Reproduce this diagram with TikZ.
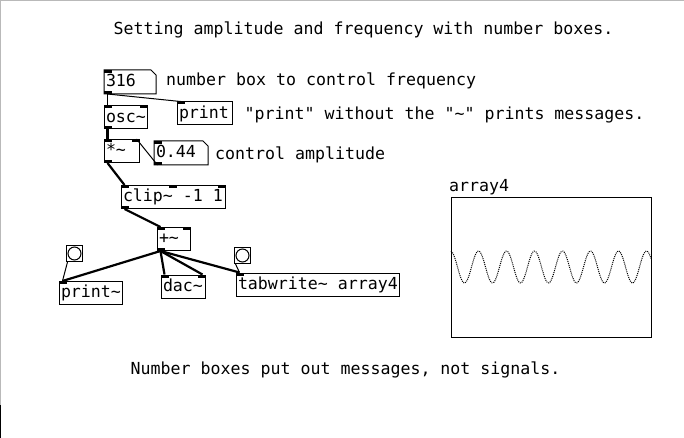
\documentclass[tikz,border=0pt]{standalone}
\usepackage{fontspec}
\setmonofont{DejaVu Sans Mono}
\newcommand\pdin[2]{\fill ([xshift=#2]#1.north west) rectangle ++(8,3);}
\newcommand\pdinr[1]{\fill (#1.north east) rectangle ++(-8,3);}
\newcommand\pdout[1]{\fill (#1.south west) rectangle ++(8,-3);}
\newcommand\bx[2]{\makebox[#1][l]{#2}}
\tikzset{
  pdobj/.style={draw, line width=1pt, anchor=north west, minimum height=23pt,
    inner xsep=1.5pt, inner ysep=3.75pt, text height=12.5pt, text depth=3pt},
  numbox/.style={pdobj, draw=none},
  bng/.style={draw, line width=1pt, anchor=north west, minimum size=16pt, inner sep=0pt},
  cmt/.style={anchor=base west, inner sep=0pt},
  msg/.style={line width=1pt},
  sig/.style={line width=2.2pt},
  wave/.style={line width=1pt, dash pattern=on 1pt off 1pt},
}
\begin{document}
\begin{tikzpicture}[x=1pt,y=-1pt,font=\ttfamily\fontsize{16.6}{19}\selectfont\frenchspacing]
\useasboundingbox (0,0) rectangle (684,438);
\fill[white] (0,0) rectangle (684,438);
\draw[gray!55, line width=1pt] (0,0.5) -- (684,0.5);
\draw[gray!55, line width=1pt] (0.5,0) -- (0.5,405);
\draw[black, line width=1pt] (0.5,405) -- (0.5,438);

% comments
\node[cmt] (title) at (113.5,35) {Setting amplitude and frequency with number boxes.};
\node[cmt] (cfreq) at (166,86) {number box to control frequency};
\node[cmt] (cprint) at (244.5,120) {"print" without the "\textasciitilde" prints messages.};
\node[cmt] (camp) at (215,160) {control amplitude};
\node[cmt] (cbottom) at (130.5,374) {Number boxes put out messages, not signals.};
\node[cmt] (arrlbl) at (449,191.5) {array4};

% objects
\node[numbox] (n316) at (104,70) {\bx{48pt}{316}};
\node[pdobj] (osc) at (104,105.5) {\bx{40pt}{osc\textasciitilde}};
\node[pdobj] (print) at (177,101.5) {\bx{52pt}{print}};
\node[pdobj] (mul) at (104,139) {\bx{32pt}{*\textasciitilde}};
\node[numbox] (n044) at (154,141) {\bx{50pt}{0.44}};
\node[pdobj] (clip) at (121,185) {\bx{101pt}{clip\textasciitilde\ -1 1}};
\node[pdobj] (plus) at (157,227) {\bx{30pt}{+\textasciitilde}};
\node[pdobj] (printsig) at (59,281) {\bx{60pt}{print\textasciitilde}};
\node[pdobj] (dac) at (161,274.5) {\bx{41pt}{dac\textasciitilde}};
\node[pdobj] (tabw) at (236,272.5) {\bx{160pt}{tabwrite\textasciitilde\ array4}};
\node[bng] (bL) at (66,245) {};
\node[bng] (bR) at (234,247) {};
\draw[line width=1pt] (bL.center) circle (6.5pt);
\draw[line width=1pt] (bR.center) circle (6.5pt);

% number box outlines
\foreach \n in {n316,n044}{
  \draw[line width=1pt] (\n.north west) -- ([xshift=-5pt]\n.north east)
    -- ([yshift=-5pt]\n.north east) -- (\n.south east) -- (\n.south west) -- cycle;
}

% iolets
\pdin{n316}{0pt} \pdout{n316}
\pdin{osc}{0pt} \pdinr{osc} \pdout{osc}
\pdin{print}{0pt}
\pdin{mul}{0pt} \pdinr{mul} \pdout{mul}
\pdin{n044}{0pt} \pdout{n044}
\pdin{clip}{0pt} \pdin{clip}{48pt} \pdinr{clip} \pdout{clip}
\pdin{plus}{0pt} \pdinr{plus} \pdout{plus}
\pdin{printsig}{0pt}
\pdin{dac}{0pt} \pdinr{dac}
\pdin{tabw}{0pt}

% connections
\draw[msg] ([xshift=3.5pt]n316.south west) -- ([xshift=3.5pt]osc.north west);
\draw[msg] ([xshift=3.5pt]n316.south west) -- ([xshift=3.5pt]print.north west);
\draw[sig] ([xshift=3.5pt]osc.south west) -- ([xshift=3.5pt]mul.north west);
\draw[msg] ([xshift=3.5pt]n044.south west) -- ([xshift=-3.5pt]mul.north east);
\draw[sig] ([xshift=3.5pt]mul.south west) -- ([xshift=3.5pt]clip.north west);
\draw[sig] ([xshift=3.5pt]clip.south west) -- ([xshift=3.5pt]plus.north west);
\draw[sig] ([xshift=3.5pt]plus.south west) -- ([xshift=3.5pt]printsig.north west);
\draw[sig] ([xshift=3.5pt]plus.south west) -- ([xshift=3.5pt]dac.north west);
\draw[sig] ([xshift=3.5pt]plus.south west) -- ([xshift=-3.5pt]dac.north east);
\draw[sig] ([xshift=3.5pt]plus.south west) -- ([xshift=3.5pt]tabw.north west);
\draw[msg] ([xshift=1.5pt]bL.south west) -- ([xshift=3.5pt]printsig.north west);
\draw[msg] ([xshift=1.5pt]bR.south west) -- ([xshift=3.5pt]tabw.north west);

% array
\node[draw, line width=1pt, anchor=north west, minimum width=200pt, minimum height=140pt, inner sep=0pt] (arr) at (451,197) {};
\draw[wave] plot[domain=451:651, samples=201] (\x,{267-16*cos(12.857143*(\x-450.5))});
\end{tikzpicture}
\end{document}
